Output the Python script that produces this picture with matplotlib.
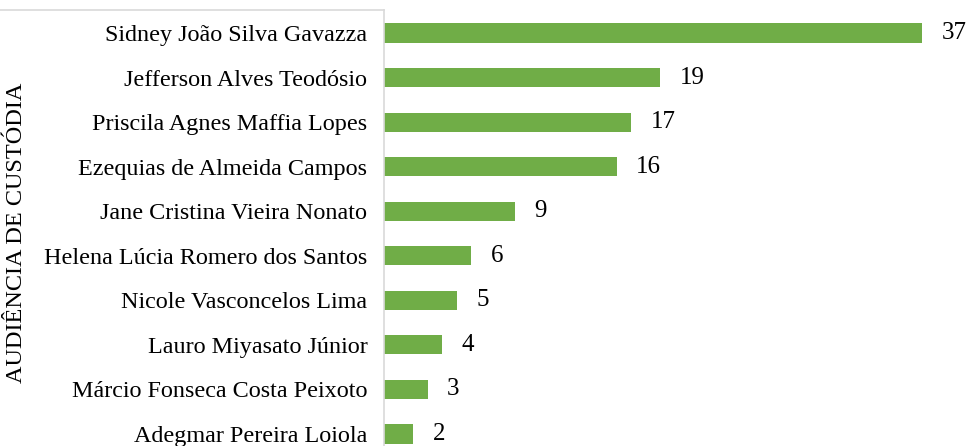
import matplotlib.pyplot as plt
from matplotlib.lines import Line2D

plt.rcParams['font.family'] = ['Liberation Serif', 'DejaVu Serif']

# Number of hearings per judge
juizes = [
    'Sidney João Silva Gavazza',
    'Jefferson Alves Teodósio',
    'Priscila Agnes Maffia Lopes',
    'Ezequias de Almeida Campos',
    'Jane Cristina Vieira Nonato',
    'Helena Lúcia Romero dos Santos',
    'Nicole Vasconcelos Lima',
    'Lauro Miyasato Júnior',
    'Márcio Fonseca Costa Peixoto',
    'Adegmar Pereira Loiola',
]
audiencias = [37, 19, 17, 16, 9, 6, 5, 4, 3, 2]

verde = '#70AD47'
cinza = '#D9D9D9'

fig = plt.figure(figsize=(9.70, 4.46), dpi=100)
ax = fig.add_axes([384 / 970, 0, 1 - 384 / 970, 1 - 10 / 446])

pos = list(range(len(juizes)))
bars = ax.barh(pos, audiencias, height=0.43, color=verde)

ax.set_xlim(0, 40.3)
ax.set_ylim(9.27, -0.516)

ax.set_yticks(pos)
ax.set_yticklabels(juizes, fontsize=17.4)
ax.tick_params(axis='y', length=0, pad=12)
ax.set_xticks([])

for s in ['top', 'right', 'bottom']:
    ax.spines[s].set_visible(False)
ax.spines['left'].set_color(cinza)
ax.spines['left'].set_linewidth(1.2)

# value labels next to each bar
for b, v in zip(bars, audiencias):
    ax.annotate(str(v), (v, b.get_y() + b.get_height() / 2),
                xytext=(14, 0), textcoords='offset points',
                va='center', ha='left', fontsize=18)

fig.text(17 / 970, 1 - 233 / 446, 'AUDIÊNCIA DE CUSTÓDIA', rotation=90,
         ha='center', va='center', fontsize=17.5)

# thin frame line over the label area
fig.add_artist(Line2D([0, 384 / 970], [1 - 10 / 446, 1 - 10 / 446],
                      transform=fig.transFigure, color=cinza, lw=1.2))

fig.savefig('out.png', dpi=100)
